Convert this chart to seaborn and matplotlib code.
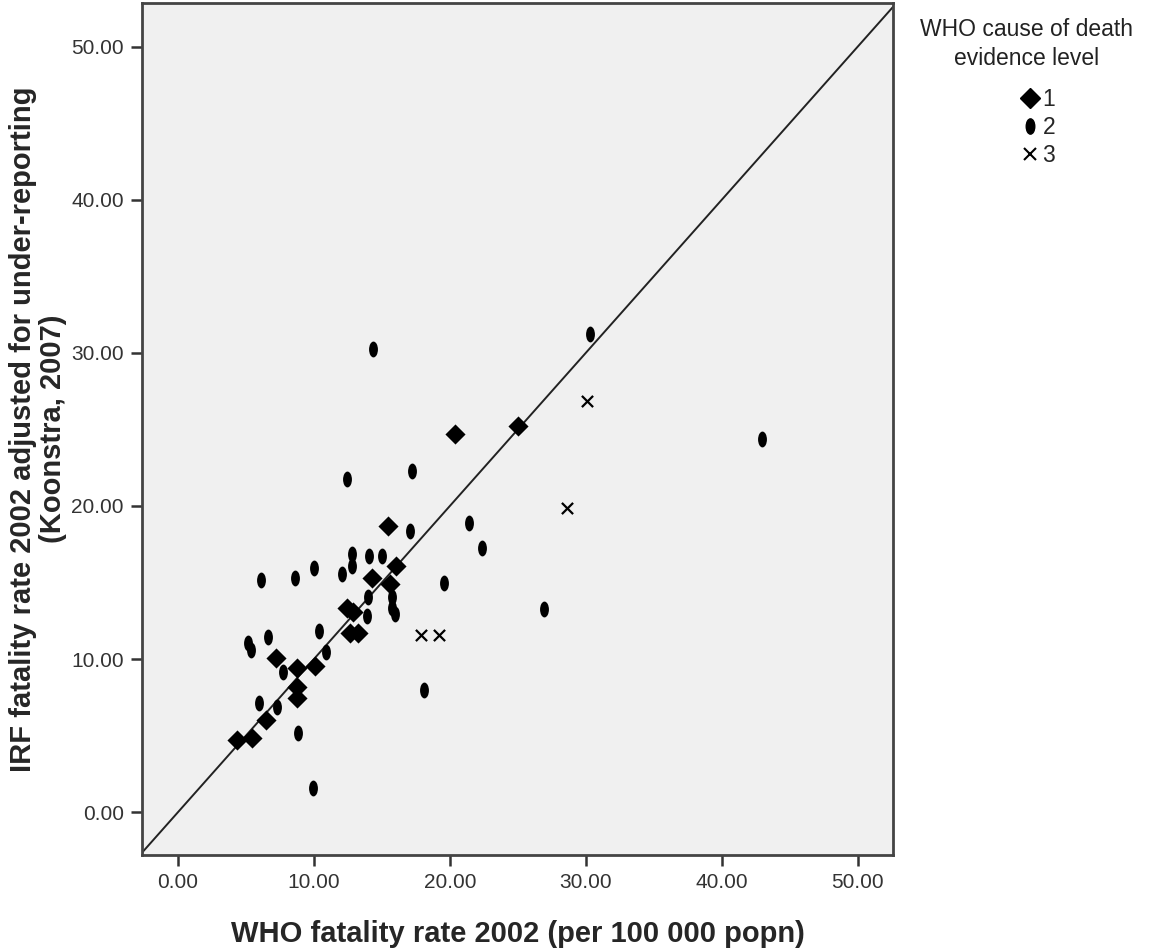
import numpy as np
import pandas as pd
import matplotlib
matplotlib.use("Agg")
import matplotlib.pyplot as plt
import seaborn as sns
from matplotlib.path import Path
from matplotlib.transforms import Affine2D
from matplotlib.lines import Line2D

# evidence level 1 (diamonds)
who_lvl1 = [4.34, 5.44, 6.47, 7.21, 8.75, 8.75, 8.75, 10.07, 12.43, 12.87,
            12.65, 13.24, 14.26, 15.59, 16.03, 15.44, 20.37, 25.0]
irf_lvl1 = [4.69, 4.82, 6.00, 10.10, 9.39, 8.15, 7.43, 9.52, 13.36, 13.04,
            11.73, 11.73, 15.32, 14.93, 16.10, 18.71, 24.71, 25.23]

# evidence level 2 (ellipses)
who_lvl2 = [5.15, 5.37, 6.62, 6.10, 5.96, 7.28, 7.72, 8.82, 8.60, 9.93,
            10.0, 10.37, 10.88, 12.06, 12.79, 12.79, 12.43, 13.90, 13.97, 14.04,
            14.34, 15.0, 15.74, 15.74, 15.96, 17.06, 17.21, 18.09, 19.56, 21.40,
            22.35, 26.91, 30.29, 42.94]
irf_lvl2 = [11.02, 10.56, 11.47, 15.19, 7.11, 6.84, 9.13, 5.15, 15.32, 1.56,
            15.97, 11.86, 10.43, 15.58, 16.88, 16.10, 21.77, 12.84, 14.02, 16.75,
            30.25, 16.75, 14.02, 13.36, 12.97, 18.38, 22.29, 7.95, 14.99, 18.90,
            17.27, 13.30, 31.23, 24.38]

# evidence level 3 (crosses)
who_lvl3 = [17.87, 19.19, 28.60, 30.07]
irf_lvl3 = [11.54, 11.54, 19.88, 26.86]

level_names = ["1", "2", "3"]
tick_vals = [0, 10, 20, 30, 40, 50]

df = pd.concat([
    pd.DataFrame({"who": who_lvl1, "irf": irf_lvl1, "level": "1"}),
    pd.DataFrame({"who": who_lvl2, "irf": irf_lvl2, "level": "2"}),
    pd.DataFrame({"who": who_lvl3, "irf": irf_lvl3, "level": "3"}),
], ignore_index=True)

sns.set_style("ticks")
plt.rcParams["font.family"] = ["Liberation Sans", "DejaVu Sans"]

ellipse = Path.unit_circle().transformed(Affine2D().scale(0.56, 1.0))

fig = plt.figure(figsize=(11.61, 9.52), dpi=100)
ax = fig.add_axes([0.1223, 0.1019, 0.6469, 0.8949])
ax.set_facecolor("#f0f0f0")

ax.axline((0, 0), slope=1, color="#222222", lw=1.4, zorder=2)

sns.scatterplot(data=df[df["level"] == "1"], x="who", y="irf", marker="D",
                s=105, color="black", linewidth=0, ax=ax, legend=False, zorder=3)
sns.scatterplot(data=df[df["level"] == "2"], x="who", y="irf", marker=ellipse,
                s=130, color="black", linewidth=0, ax=ax, legend=False, zorder=3)
sns.scatterplot(data=df[df["level"] == "3"], x="who", y="irf", marker="x",
                s=65, color="black", linewidth=1.6, ax=ax, legend=False, zorder=3)

ax.set_xlim(-2.65, 52.6)
ax.set_ylim(-2.8, 52.85)
ax.set_xticks(tick_vals)
ax.set_yticks(tick_vals)
ax.set_xticklabels([f"{v:.2f}" for v in tick_vals])
ax.set_yticklabels([f"{v:.2f}" for v in tick_vals])
ax.tick_params(axis="both", labelsize=15, labelcolor="#333333", color="#333333",
               length=8, width=1.8, direction="out", pad=5)
for sp in ax.spines.values():
    sp.set_color("#444444")
    sp.set_linewidth(2)
    sp.set_visible(True)

ax.set_xlabel("WHO fatality rate 2002 (per 100 000 popn)", fontsize=21,
              fontweight="bold", labelpad=20)
ax.set_ylabel("IRF fatality rate 2002 adjusted for under-reporting\n(Koonstra, 2007)",
              fontsize=21, fontweight="bold", labelpad=3, linespacing=1.1)

# legend title drawn on its own so it can sit centred above the keys
fig.text(1027 / 1161, 1 - 44 / 952, "WHO cause of death\nevidence level",
         ha="center", va="center", fontsize=16.5, color="#222222",
         linespacing=1.3, multialignment="center")

handles = [
    Line2D([], [], linestyle="none", marker="D", markersize=10, color="black"),
    Line2D([], [], linestyle="none", marker=ellipse, markersize=11, color="black"),
    Line2D([], [], linestyle="none", marker="x", markersize=8, color="black",
           markeredgewidth=1.5),
]
fig.legend(handles, level_names, loc="upper center",
           bbox_to_anchor=(1038 / 1161, 1 - 72 / 952),
           frameon=False, fontsize=16.5, handlelength=0.8,
           handletextpad=0.15, labelspacing=0.22, borderpad=0.2)

fig.savefig("out.png", dpi=100, facecolor="white")
